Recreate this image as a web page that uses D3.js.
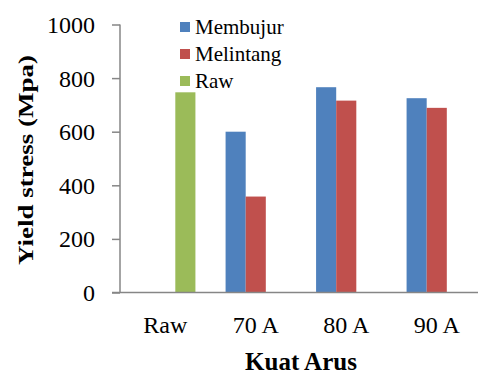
<!DOCTYPE html>
<html><head><meta charset="utf-8">
<script src="https://cdn.jsdelivr.net/npm/d3@7"></script>
</head><body style="margin:0">
<svg id="chart" width="478" height="374" style="display:block"></svg>
<script>
const categories = ["Raw", "70 A", "80 A", "90 A"];
const seriesNames = ["Membujur", "Melintang", "Raw"];
const membujur = [null, 600, 766, 725];
const melintang = [null, 358, 716, 689];
const raw = [747, null, null, null];
const yTicks = [0, 200, 400, 600, 800, 1000];
const colors = ["#4F81BD", "#C0504D", "#9BBB59"];

const seriesValues = [membujur, melintang, raw];
const svg = d3.select("#chart");
const font = "Liberation Serif";
const axisColor = "#868686";

const y = d3.scaleLinear().domain([0, 1000]).range([292.5, 24.5]);
const x0 = d3.scaleBand().domain(categories).range([120, 482]).paddingInner(1/3).paddingOuter(1/6);
const x1 = d3.scaleBand().domain(seriesNames).range([0, x0.bandwidth()]);

// bars
seriesNames.forEach((s, si) => {
  const data = categories.map((c, ci) => ({c, v: seriesValues[si][ci]})).filter(d => d.v != null);
  svg.append("g").selectAll("rect").data(data).join("rect")
    .attr("x", d => x0(d.c) + x1(s))
    .attr("y", d => y(d.v))
    .attr("width", x1.bandwidth())
    .attr("height", d => y(0) - y(d.v))
    .attr("fill", colors[si]);
});

// y axis
const yAxis = d3.axisLeft(y).tickValues(yTicks).tickSize(8).tickPadding(17).tickFormat(d3.format("d"));
const gy = svg.append("g").attr("transform", "translate(120,0)").call(yAxis);
gy.attr("font-family", font).attr("font-size", 24);
gy.select(".domain").attr("stroke", axisColor).attr("stroke-width", 1.5).attr("d", `M0,${y(1000)}V${y(0)}`);
gy.selectAll(".tick line").attr("stroke", axisColor).attr("stroke-width", 1.5);
gy.selectAll(".tick text").style("font-family", font).style("font-size", "24px").attr("fill", "#000").attr("dy", "0.33em");

// x axis
const xAxis = d3.axisBottom(x0).tickSize(0).tickPadding(0);
const gx = svg.append("g").attr("transform", `translate(0,${y(0)})`).call(xAxis);
gx.attr("font-family", font).attr("font-size", 24);
gx.select(".domain").attr("stroke", axisColor).attr("stroke-width", 1.5).attr("d", `M112,0H478`);
gx.selectAll(".tick text").style("font-family", font).style("font-size", "24px").attr("fill", "#000")
  .attr("dy", null).attr("y", 40);

// axis titles
svg.append("text").attr("x", 301).attr("y", 370).attr("text-anchor", "middle")
  .style("font-family", font).style("font-weight", "bold").style("font-size", "25px").text("Kuat Arus");
svg.append("text").attr("transform", "translate(33,160) rotate(-90)").attr("text-anchor", "middle")
  .style("font-family", font).style("font-weight", "bold").style("font-size", "20px")
  .attr("textLength", 210).attr("lengthAdjust", "spacingAndGlyphs").text("Yield stress (Mpa)");

// legend
const lg = svg.append("g");
seriesNames.forEach((s, i) => {
  const row = lg.append("g").attr("transform", `translate(180,${34 + i * 27})`);
  row.append("rect").attr("x", 0).attr("y", -12).attr("width", 10).attr("height", 10).attr("fill", colors[i]);
  row.append("text").attr("x", 15).attr("y", 0).style("font-family", font).style("font-size", "21px").attr("fill", "#000").text(s);
});
</script>
</body></html>
